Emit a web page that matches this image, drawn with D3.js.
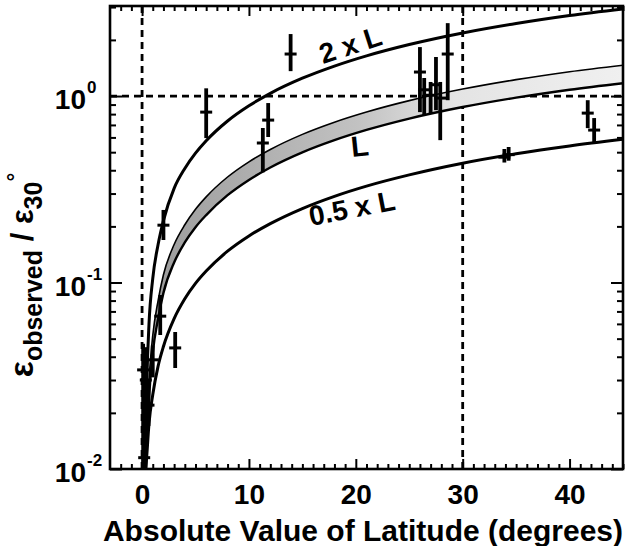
<!DOCTYPE html>
<html>
<head>
<meta charset="utf-8">
<script src="https://cdn.jsdelivr.net/npm/d3@7"></script>
<style>
  body { margin: 0; background: #fff; }
  text { font-family: "Liberation Sans", Arial, Helvetica, sans-serif; font-weight: bold; }
</style>
</head>
<body>
<script>
// model curves
var curveLat  = [0.3, 0.45, 0.65, 1.0, 1.5, 2, 3, 4, 5, 6, 8, 10, 12, 15, 18, 21, 25, 30, 35, 40, 45];
var twoL      = [0.011, 0.03, 0.06, 0.105, 0.16, 0.215, 0.32, 0.409, 0.494, 0.576, 0.735, 0.887, 1.034, 1.246, 1.448, 1.643, 1.89, 2.18, 2.45, 2.70, 2.927];
var bandUpper = [0.01, 0.018, 0.03, 0.052, 0.08, 0.11, 0.16, 0.204, 0.247, 0.288, 0.368, 0.444, 0.517, 0.623, 0.724, 0.821, 0.945, 1.09, 1.225, 1.35, 1.463];
var bandLower = [0.008, 0.014, 0.024, 0.042, 0.064, 0.088, 0.128, 0.164, 0.198, 0.230, 0.294, 0.355, 0.414, 0.499, 0.58, 0.658, 0.757, 0.873, 0.981, 1.081, 1.172];
var halfL     = [0.009, 0.012, 0.0175, 0.025, 0.0356, 0.0454, 0.064, 0.0818, 0.0989, 0.1152, 0.1472, 0.1777, 0.207, 0.2494, 0.29, 0.329, 0.378, 0.4365, 0.4905, 0.540, 0.586];

// observations with error bars
var pointLat = [0.1, 0.35, 0.6, 1.0, 0.2, 1.7, 2.0, 3.1, 6.0, 11.3, 11.8, 13.9, 26.0, 26.4, 27.0, 27.5, 27.9, 28.6, 33.9, 34.3, 41.7, 42.3];
var pointVal = [0.034, 0.03, 0.022, 0.0385, 0.0115, 0.066, 0.203, 0.0446, 0.82, 0.56, 0.743, 1.68, 1.345, 1.08, 1.01, 1.15, 0.975, 1.68, 0.47, 0.485, 0.81, 0.657];
var pointLo  = [0.0095, 0.02, 0.017, 0.031, 0.009, 0.0523, 0.169, 0.0348, 0.595, 0.39, 0.603, 1.36, 0.82, 0.79, 0.81, 0.84, 0.58, 0.95, 0.44, 0.45, 0.673, 0.566];
var pointHi  = [0.047, 0.045, 0.03, 0.046, 0.015, 0.0857, 0.245, 0.0543, 1.10, 0.674, 0.917, 2.15, 1.83, 1.25, 1.19, 1.62, 1.19, 2.46, 0.52, 0.533, 0.95, 0.762];

var xMajor = [0, 10, 20, 30, 40];
var yMajor = [0.01, 0.1, 1];
var yExp = ["-2", "-1", "0"];

var W = 631, H = 546;
var pL = 110, pR = 623, pT = 6, pB = 469;

var x = d3.scaleLinear().domain([-3, 45]).range([pL, pR]);
var y = d3.scaleLog().domain([0.01, 3.04]).range([pB, pT]);

var svg = d3.select("body").append("svg")
  .attr("width", W)
  .attr("height", H);

var defs = svg.append("defs");
defs.append("clipPath").attr("id", "plot")
  .append("rect")
  .attr("x", pL).attr("y", pT)
  .attr("width", pR - pL).attr("height", pB - pT);

var grad = defs.append("linearGradient").attr("id", "bandFill")
  .attr("gradientUnits", "userSpaceOnUse")
  .attr("x1", x(0)).attr("x2", x(45)).attr("y1", 0).attr("y2", 0);
grad.append("stop").attr("offset", "0%").attr("stop-color", "#9a9a9a");
grad.append("stop").attr("offset", "45%").attr("stop-color", "#c2c2c2");
grad.append("stop").attr("offset", "65%").attr("stop-color", "#e4e4e4");
grad.append("stop").attr("offset", "100%").attr("stop-color", "#f0f0f0");

var plot = svg.append("g").attr("clip-path", "url(#plot)");

// dashed reference lines
plot.append("line")
  .attr("x1", pL).attr("x2", pR)
  .attr("y1", y(1)).attr("y2", y(1))
  .attr("stroke", "#000").attr("stroke-width", 2.8).attr("stroke-dasharray", "7,5");
[0, 30].forEach(function(v) {
  plot.append("line")
    .attr("x1", x(v)).attr("x2", x(v))
    .attr("y1", pT).attr("y2", pB)
    .attr("stroke", "#000").attr("stroke-width", 2.8).attr("stroke-dasharray", "7,5");
});

// L band
var band = curveLat.map(function(d, i) { return [d, bandLower[i], bandUpper[i]]; });
plot.append("path")
  .datum(band)
  .attr("fill", "url(#bandFill)")
  .attr("d", d3.area()
    .x(function(d) { return x(d[0]); })
    .y0(function(d) { return y(d[1]); })
    .y1(function(d) { return y(d[2]); })
    .curve(d3.curveMonotoneX));

function drawCurve(vals, w) {
  plot.append("path")
    .datum(curveLat.map(function(d, i) { return [d, vals[i]]; }))
    .attr("fill", "none")
    .attr("stroke", "#000")
    .attr("stroke-width", w)
    .attr("d", d3.line()
      .x(function(d) { return x(d[0]); })
      .y(function(d) { return y(d[1]); })
      .curve(d3.curveMonotoneX));
}
drawCurve(bandUpper, 1.6);
drawCurve(bandLower, 2.4);
drawCurve(twoL, 3);
drawCurve(halfL, 3);

// error bars
var pts = plot.selectAll(".pt")
  .data(pointLat.map(function(d, i) { return {lat: d, v: pointVal[i], lo: pointLo[i], hi: pointHi[i]}; }))
  .enter().append("g").attr("class", "pt");
pts.append("line")
  .attr("x1", function(d) { return x(d.lat); })
  .attr("x2", function(d) { return x(d.lat); })
  .attr("y1", function(d) { return y(d.lo); })
  .attr("y2", function(d) { return y(d.hi); })
  .attr("stroke", "#000").attr("stroke-width", 3.8);
pts.append("line")
  .attr("x1", function(d) { return x(d.lat) - 6; })
  .attr("x2", function(d) { return x(d.lat) + 6; })
  .attr("y1", function(d) { return y(d.v); })
  .attr("y2", function(d) { return y(d.v); })
  .attr("stroke", "#000").attr("stroke-width", 3);

// curve labels
svg.append("text").attr("transform", "translate(323,64) rotate(-18)")
  .attr("font-size", 28).text("2 x L");
svg.append("text").attr("transform", "translate(352,157) rotate(-6)")
  .attr("font-size", 29).text("L");
svg.append("text").attr("transform", "translate(311,226) rotate(-11)")
  .attr("font-size", 28).text("0.5 x L");

// axes (ticks inward)
var xMinor = d3.range(-2, 46).filter(function(v) { return v % 10 !== 0; });
var yMinor = [];
[0.01, 0.1, 1].forEach(function(b) {
  for (var k = 2; k <= 9; k++) if (b * k <= 3.04) yMinor.push(b * k);
});

function tickAxis(axis, pos, vals, len) {
  var g = svg.append("g").attr("transform", pos)
    .call(axis.tickValues(vals).tickSize(-len).tickFormat(""));
  g.select(".domain").remove();
  g.selectAll("line").attr("stroke-width", 2);
  return g;
}
tickAxis(d3.axisBottom(x), "translate(0," + pB + ")", xMinor, 5);
tickAxis(d3.axisTop(x), "translate(0," + pT + ")", xMinor, 5);
tickAxis(d3.axisBottom(x), "translate(0," + pB + ")", xMajor, 10);
tickAxis(d3.axisTop(x), "translate(0," + pT + ")", xMajor, 10);
tickAxis(d3.axisLeft(y), "translate(" + pL + ",0)", yMinor, 6);
tickAxis(d3.axisRight(y), "translate(" + pR + ",0)", yMinor, 6);
tickAxis(d3.axisLeft(y), "translate(" + pL + ",0)", yMajor, 12);
tickAxis(d3.axisRight(y), "translate(" + pR + ",0)", yMajor, 12);

// x tick labels
var xl = svg.append("g").attr("transform", "translate(0," + pB + ")")
  .call(d3.axisBottom(x).tickValues(xMajor).tickSize(0).tickPadding(15));
xl.select(".domain").remove();
xl.selectAll("text").attr("font-size", 28).attr("fill", "#000")
  .style("font-family", "'Liberation Sans', Arial, sans-serif").style("font-weight", "bold");

// y tick labels 10^n
yMajor.forEach(function(v, i) {
  svg.append("text")
    .attr("x", 86).attr("y", y(v) + 13)
    .attr("text-anchor", "end")
    .attr("font-size", 28).text("10");
  svg.append("text")
    .attr("x", 87).attr("y", y(v) - 3)
    .attr("font-size", 17).text(yExp[i]);
});

// frame
svg.append("rect")
  .attr("x", pL).attr("y", pT)
  .attr("width", pR - pL).attr("height", pB - pT)
  .attr("fill", "none").attr("stroke", "#000").attr("stroke-width", 2.6);

// axis titles
svg.append("text")
  .attr("x", (97 + 629) / 2).attr("y", 541)
  .attr("text-anchor", "middle")
  .attr("font-size", 30)
  .text("Absolute Value of Latitude (degrees)");

var yt = svg.append("text")
  .attr("transform", "translate(33,275) rotate(-90)")
  .attr("text-anchor", "middle");
yt.append("tspan").attr("font-size", 34).text("\u03b5");
yt.append("tspan").attr("font-size", 25).attr("dy", 9).text("observed");
yt.append("tspan").attr("font-size", 31).attr("dy", -9).text(" / \u03b5");
yt.append("tspan").attr("font-size", 25).attr("dy", 9).text("30");
yt.append("tspan").attr("font-size", 22).attr("dy", -19).text("\u00b0");
</script>
</body>
</html>
